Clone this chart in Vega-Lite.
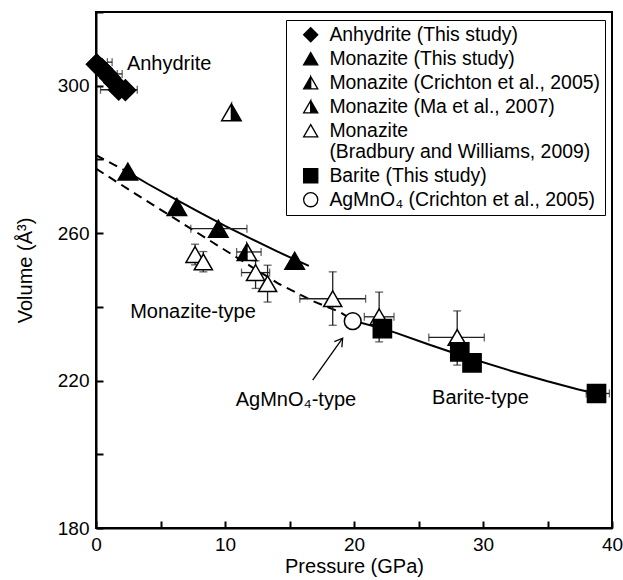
{
  "$schema": "https://vega.github.io/schema/vega-lite/v6.json",
  "width": 516,
  "height": 516,
  "autosize": {"type": "none"},
  "padding": {"left": 96, "top": 12, "right": 11, "bottom": 52},
  "background": "white",
  "config": {
    "view": {"stroke": "black", "strokeWidth": 2},
    "font": "Liberation Sans",
    "axis": {
      "domainColor": "black", "domainWidth": 2, "tickColor": "black", "tickWidth": 2, "tickSize": -7,
      "labelColor": "black", "titleColor": "black", "labelFont": "Liberation Sans", "titleFont": "Liberation Sans",
      "labelFontSize": 19, "titleFontSize": 20, "titleFontWeight": "normal", "grid": false, "labelFlush": false
    }
  },
  "datasets": {
    "pts": [
      {"series": "Anhydrite (This study)", "P": 0.05, "V": 305.8},
      {"series": "Anhydrite (This study)", "P": 0.45, "V": 304.6},
      {"series": "Anhydrite (This study)", "P": 0.8, "V": 303.3},
      {"series": "Anhydrite (This study)", "P": 1.1, "V": 302.1},
      {"series": "Anhydrite (This study)", "P": 1.4, "V": 300.9},
      {"series": "Anhydrite (This study)", "P": 1.76, "V": 298.9},
      {"series": "Anhydrite (This study)", "P": 2.28, "V": 298.8},
      {"series": "Monazite (This study)", "P": 2.47, "V": 276.7},
      {"series": "Monazite (This study)", "P": 6.27, "V": 267.1},
      {"series": "Monazite (This study)", "P": 9.48, "V": 261.2},
      {"series": "Monazite (This study)", "P": 15.4, "V": 252.5},
      {"series": "Monazite (Bradbury and Williams, 2009)", "P": 7.68, "V": 254.2},
      {"series": "Monazite (Bradbury and Williams, 2009)", "P": 8.32, "V": 252.2},
      {"series": "Monazite (Bradbury and Williams, 2009)", "P": 12.37, "V": 249.3},
      {"series": "Monazite (Bradbury and Williams, 2009)", "P": 13.3, "V": 246.3},
      {"series": "Monazite (Bradbury and Williams, 2009)", "P": 18.35, "V": 242.2},
      {"series": "Monazite (Bradbury and Williams, 2009)", "P": 21.95, "V": 237.3},
      {"series": "Monazite (Bradbury and Williams, 2009)", "P": 28.0, "V": 231.7},
      {"series": "Monazite (Crichton et al., 2005)", "P": 11.7, "V": 254.9},
      {"series": "Monazite (Ma et al., 2007)", "P": 10.5, "V": 292.8},
      {"series": "Barite (This study)", "P": 22.2, "V": 234.1},
      {"series": "Barite (This study)", "P": 28.2, "V": 227.8},
      {"series": "Barite (This study)", "P": 29.15, "V": 224.8},
      {"series": "Barite (This study)", "P": 38.8, "V": 216.5},
      {"series": "AgMnO₄ (Crichton et al., 2005)", "P": 19.9, "V": 236.1}
    ],
    "curves": [
      {"curve": "mon_ext", "P": 0, "V": 281.2},
      {"curve": "mon_ext", "P": 1.2, "V": 278.9},
      {"curve": "mon_ext", "P": 2.4, "V": 276.7},
      {"curve": "mon", "P": 2.4, "V": 276.7},
      {"curve": "mon", "P": 4, "V": 273.4},
      {"curve": "mon", "P": 6, "V": 269.5},
      {"curve": "mon", "P": 8, "V": 265.7},
      {"curve": "mon", "P": 10, "V": 262.0},
      {"curve": "mon", "P": 12, "V": 258.5},
      {"curve": "mon", "P": 14, "V": 255.1},
      {"curve": "mon", "P": 16.5, "V": 251.1},
      {"curve": "brad", "P": 0, "V": 277.5},
      {"curve": "brad", "P": 3, "V": 270.8},
      {"curve": "brad", "P": 6, "V": 264.2},
      {"curve": "brad", "P": 9, "V": 257.6},
      {"curve": "brad", "P": 12, "V": 251.0},
      {"curve": "brad", "P": 14.2, "V": 246.2},
      {"curve": "brad", "P": 16.8, "V": 241.6},
      {"curve": "brad", "P": 18.9, "V": 238.6},
      {"curve": "brad", "P": 19.5, "V": 237.3},
      {"curve": "bar", "P": 19.9, "V": 236.3},
      {"curve": "bar", "P": 22.2, "V": 234.1},
      {"curve": "bar", "P": 23.2, "V": 233.0},
      {"curve": "bar", "P": 25.8, "V": 229.8},
      {"curve": "bar", "P": 28.5, "V": 226.6},
      {"curve": "bar", "P": 32.2, "V": 222.6},
      {"curve": "bar", "P": 35, "V": 219.8},
      {"curve": "bar", "P": 37.4, "V": 217.6},
      {"curve": "bar", "P": 39.0, "V": 216.3}
    ],
    "xerr": [
      {"V": 306.4, "lo": 0.88, "hi": 1.25},
      {"V": 303.2, "lo": 1.65, "hi": 2.03},
      {"V": 298.9, "lo": 0.35, "hi": 3.2},
      {"V": 261.2, "lo": 7.35, "hi": 11.7},
      {"V": 254.9, "lo": 10.9, "hi": 12.8},
      {"V": 249.3, "lo": 11.28, "hi": 13.46},
      {"V": 242.2, "lo": 15.8, "hi": 20.9},
      {"V": 237.3, "lo": 20.8, "hi": 23.1},
      {"V": 231.7, "lo": 25.8, "hi": 30.1},
      {"V": 216.5, "lo": 38.0, "hi": 39.8}
    ],
    "yerr": [
      {"P": 7.68, "lo": 251.4, "hi": 257.0},
      {"P": 8.32, "lo": 249.5, "hi": 255.0},
      {"P": 12.37, "lo": 245.0, "hi": 252.5},
      {"P": 13.3, "lo": 241.3, "hi": 251.3},
      {"P": 18.35, "lo": 235.0, "hi": 249.5},
      {"P": 21.95, "lo": 230.5, "hi": 244.0},
      {"P": 28.0, "lo": 224.2, "hi": 238.9}
    ],
    "notes": [
      {"label": "Anhydrite", "P": 5.67, "V": 306.0},
      {"label": "Monazite-type", "P": 7.52, "V": 238.6},
      {"label": "AgMnO₄-type", "P": 15.5, "V": 214.7},
      {"label": "Barite-type", "P": 29.8, "V": 215.2}
    ],
    "arrow": [
      {"P": 16.8, "V": 220.1, "P2": 19.12, "V2": 231.5}
    ]
  },
  "layer": [
    {
      "data": {"name": "curves"},
      "transform": [{"filter": "datum.curve === 'mon' || datum.curve === 'bar'"}],
      "mark": {"type": "line", "color": "black", "strokeWidth": 2},
      "encoding": {
        "x": {"field": "P", "type": "quantitative", "title": "Pressure (GPa)",
          "scale": {"domain": [0, 40], "nice": false, "zero": false},
          "axis": {"values": [0, 5, 10, 15, 20, 25, 30, 35, 40], "labelExpr": "datum.value % 10 === 0 ? datum.label : ''", "labelPadding": 14, "titlePadding": 2}},
        "y": {"field": "V", "type": "quantitative", "title": "Volume (Å³)",
          "scale": {"domain": [180, 320], "nice": false, "zero": false},
          "axis": {"values": [180, 190, 200, 210, 220, 230, 240, 250, 260, 270, 280, 290, 300, 310, 320], "labelExpr": "(datum.value - 180) % 40 === 0 ? datum.label : ''", "labelPadding": 14, "titlePadding": 22}},
        "detail": {"field": "curve"}
      }
    },
    {
      "data": {"name": "curves"},
      "transform": [{"filter": "datum.curve === 'mon_ext' || datum.curve === 'brad'"}],
      "mark": {"type": "line", "color": "black", "strokeWidth": 2, "strokeDash": [9, 6]},
      "encoding": {
        "x": {"field": "P", "type": "quantitative", "title": "Pressure (GPa)"},
        "y": {"field": "V", "type": "quantitative", "title": "Volume (Å³)"},
        "detail": {"field": "curve"}
      }
    },
    {
      "data": {"name": "xerr"},
      "mark": {"type": "errorbar", "ticks": {"size": 8, "thickness": 1.3, "color": "#222"}, "rule": {"strokeWidth": 1.3, "color": "#222"}},
      "encoding": {
        "x": {"field": "lo", "type": "quantitative", "title": "Pressure (GPa)"},
        "x2": {"field": "hi"},
        "y": {"field": "V", "type": "quantitative", "title": "Volume (Å³)"}
      }
    },
    {
      "data": {"name": "yerr"},
      "mark": {"type": "errorbar", "ticks": {"size": 8, "thickness": 1.3, "color": "#222"}, "rule": {"strokeWidth": 1.3, "color": "#222"}},
      "encoding": {
        "y": {"field": "lo", "type": "quantitative", "title": "Volume (Å³)"},
        "y2": {"field": "hi"},
        "x": {"field": "P", "type": "quantitative", "title": "Pressure (GPa)"}
      }
    },
    {
      "data": {"name": "arrow"},
      "mark": {"type": "rule", "color": "black", "strokeWidth": 1.3},
      "encoding": {
        "x": {"field": "P", "type": "quantitative", "title": "Pressure (GPa)"},
        "y": {"field": "V", "type": "quantitative", "title": "Volume (Å³)"},
        "x2": {"field": "P2"},
        "y2": {"field": "V2"}
      }
    },
    {
      "data": {"name": "arrow"},
      "mark": {"type": "point", "shape": "M-0.6,1L0,0L0.6,1", "filled": false, "stroke": "black", "strokeWidth": 1.3, "size": 240, "angle": 36, "opacity": 1},
      "encoding": {
        "x": {"field": "P2", "type": "quantitative", "title": "Pressure (GPa)"},
        "y": {"field": "V2", "type": "quantitative", "title": "Volume (Å³)"}
      }
    },
    {
      "data": {"name": "pts"},
      "mark": {"type": "point", "filled": true, "stroke": "black", "strokeWidth": 1.5, "opacity": 1},
      "encoding": {
        "x": {"field": "P", "type": "quantitative", "title": "Pressure (GPa)"},
        "y": {"field": "V", "type": "quantitative", "title": "Volume (Å³)"},
        "shape": {
          "field": "series", "type": "nominal", "title": null,
          "scale": {
            "domain": ["Anhydrite (This study)", "Monazite (This study)", "Monazite (Crichton et al., 2005)", "Monazite (Ma et al., 2007)", "Monazite (Bradbury and Williams, 2009)", "Barite (This study)", "AgMnO₄ (Crichton et al., 2005)"],
            "range": ["diamond", "triangle-up", "M0,-0.866L1,0.866L-1,0.866ZM0,-0.866L0,0.866L1,0.866Z", "M0,-0.866L1,0.866L-1,0.866ZM0,-0.866L-1,0.866L0,0.866Z", "triangle-up", "square", "circle"]
          },
          "legend": {
            "orient": "none", "legendX": 190, "legendY": 8, "strokeColor": "black", "fillColor": "white",
            "padding": 5, "symbolOffset": 10, "labelOffset": 9, "rowPadding": 3, "symbolSize": 200, "symbolStrokeColor": "black", "symbolStrokeWidth": 1.3,
            "labelFont": "Liberation Sans", "labelFontSize": 19.4, "labelColor": "black", "labelLimit": 400,
            "labelExpr": "datum.label === 'Monazite (Bradbury and Williams, 2009)' ? ['Monazite', '(Bradbury and Williams, 2009)'] : datum.label"
          }
        },
        "fill": {
          "field": "series", "type": "nominal", "title": null,
          "scale": {
            "domain": ["Anhydrite (This study)", "Monazite (This study)", "Monazite (Crichton et al., 2005)", "Monazite (Ma et al., 2007)", "Monazite (Bradbury and Williams, 2009)", "Barite (This study)", "AgMnO₄ (Crichton et al., 2005)"],
            "range": ["black", "black", "black", "black", "white", "black", "white"]
          }
        },
        "stroke": {
          "field": "series", "type": "nominal", "title": null,
          "scale": {
            "domain": ["Anhydrite (This study)", "Monazite (This study)", "Monazite (Crichton et al., 2005)", "Monazite (Ma et al., 2007)", "Monazite (Bradbury and Williams, 2009)", "Barite (This study)", "AgMnO₄ (Crichton et al., 2005)"],
            "range": ["black", "black", "black", "black", "black", "black", "black"]
          }
        },
        "size": {
          "condition": [
            {"test": "datum.series === 'Anhydrite (This study)'", "value": 420},
            {"test": "datum.series === 'AgMnO₄ (Crichton et al., 2005)'", "value": 280},
            {"test": "datum.series === 'Barite (This study)'", "value": 330},
            {"test": "datum.series === 'Monazite (Bradbury and Williams, 2009)'", "value": 330}
          ],
          "value": 380
        }
      }
    },
    {
      "data": {"name": "notes"},
      "mark": {"type": "text", "font": "Liberation Sans", "fontSize": 20, "color": "black", "align": "center", "baseline": "middle"},
      "encoding": {
        "x": {"field": "P", "type": "quantitative", "title": "Pressure (GPa)"},
        "y": {"field": "V", "type": "quantitative", "title": "Volume (Å³)"},
        "text": {"field": "label"}
      }
    }
  ]
}
